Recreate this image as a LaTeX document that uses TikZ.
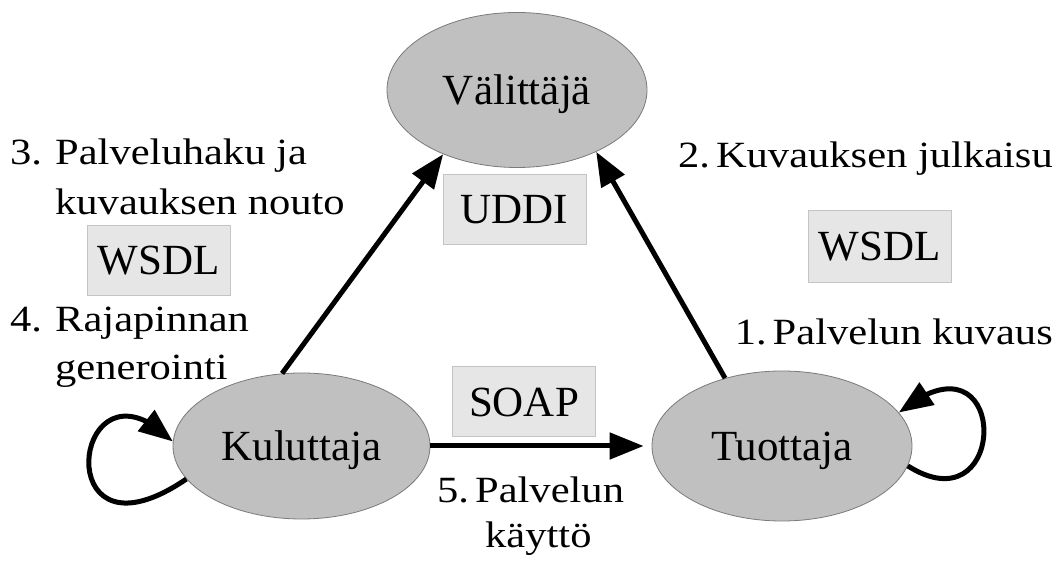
\documentclass[tikz,border=0pt]{standalone}
\usepackage{fontspec}
\setmainfont{Liberation Serif}
\newfontfamily\lblfont{Liberation Serif}[FakeStretch=1.15]
\usetikzlibrary{arrows.meta,shapes.geometric,bending}
\definecolor{ellfill}{HTML}{C0C0C0}
\definecolor{ellline}{HTML}{7A7A7A}
\definecolor{boxfill}{HTML}{E6E6E6}
\definecolor{boxline}{HTML}{C4C4C4}
\begin{document}
\begin{tikzpicture}[x=1pt,y=1pt,
  entity/.style={ellipse, draw=ellline, line width=0.8pt, fill=ellfill,
    minimum width=260pt, minimum height=150pt, inner sep=0pt,
    text height=36pt, text depth=6pt, font=\fontsize{43}{50}\selectfont},
  proto/.style={rectangle, draw=boxline, line width=0.8pt, fill=boxfill,
    minimum width=143pt, minimum height=70pt, inner sep=0pt,
    text height=36pt, text depth=6pt, font=\fontsize{43}{50}\selectfont},
  lbl/.style={inner sep=0pt, font=\lblfont\fontsize{37}{44}\selectfont},
  flow/.style={line width=5pt, -{Triangle[length=34pt,width=26pt]}},
]
\useasboundingbox (0,0) rectangle (1055,561);

\node[entity, minimum height=155pt] (val) at (517,471) {Välittäjä};
\node[entity, minimum width=257pt, minimum height=146pt] (kul) at (301.5,115) {Kuluttaja};
\node[entity] (tuo) at (782,115) {Tuottaja};

\node[proto] (uddi) at (514.5,352) {UDDI};
\node[proto] (wsdlL) at (158.5,301) {WSDL};
\node[proto, minimum height=72pt] (wsdlR) at (879.5,315) {WSDL};
\node[proto] (soap) at (524,159.5) {SOAP};

\draw[flow] (kul.105) -- (val.221);
\draw[flow] (tuo.130) -- (val.322);
\draw[flow, shorten >=8pt] (kul.east) -- (tuo.west);
\draw[flow] (kul.196) .. controls +(-142,-97) and +(-100,100) .. (kul.178);
\draw[flow] (tuo.-9) .. controls +(103,-65) and +(112,92) .. (tuo.16);

\node[lbl, anchor=base west] (l3a) at (10,396) {\makebox[45pt][l]{3.}Palveluhaku ja};
\node[lbl, anchor=base west] (l3b) at (55,346) {kuvauksen nouto};
\node[lbl, anchor=base west] (l4a) at (10,229) {\makebox[45pt][l]{4.}Rajapinnan};
\node[lbl, anchor=base west] (l4b) at (55,181) {generointi};
\node[lbl, anchor=base east] (l2) at (1053,393) {2.\hspace{6pt}Kuvauksen julkaisu};
\node[lbl, anchor=base east] (l1) at (1053,216) {1.\hspace{6pt}Palvelun kuvaus};
\node[lbl, anchor=base west] (l5a) at (437,58) {5.\hspace{6pt}Palvelun};
\node[lbl, anchor=base west] (l5b) at (485,13) {käyttö};
\end{tikzpicture}
\end{document}
